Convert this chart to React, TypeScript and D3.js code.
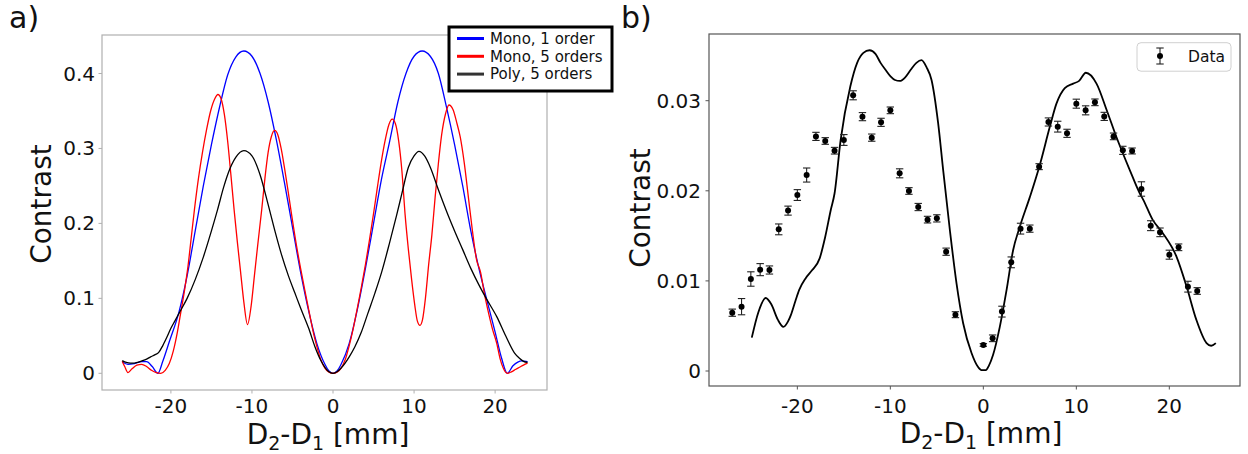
import React from "react";
import * as d3 from "d3";

// ---- panel a) : simulated contrast curves ----
const monoOneX = [-26, -25.3, -24.5, -23.6, -23, -22.3, -21.6, -21, -20.2, -19, -18, -17, -16, -15, -14, -13, -12, -11, -10, -9, -8, -7, -6, -5, -4, -3, -2, -1, -0.5, 0, 0.5, 1, 2, 3, 4, 5, 6, 7, 8, 9, 10, 11, 12, 13, 14, 15, 16, 17, 18, 19, 20, 20.8, 21.5, 22.2, 22.8, 23.3, 24];
const monoOneY = [0.0155, 0.012, 0.013, 0.0155, 0.0155, 0.009, 0, 0.016, 0.042, 0.082, 0.13, 0.19, 0.25, 0.305, 0.355, 0.398, 0.422, 0.43, 0.423, 0.4, 0.362, 0.312, 0.255, 0.195, 0.135, 0.083, 0.04, 0.012, 0.003, 0, 0.003, 0.012, 0.04, 0.085, 0.14, 0.2, 0.26, 0.31, 0.362, 0.4, 0.423, 0.43, 0.423, 0.4, 0.355, 0.305, 0.25, 0.19, 0.14, 0.097, 0.055, 0.02, 0, 0.01, 0.015, 0.0165, 0.0155];

const monoFiveX = [-26, -25.7, -25.3, -24.8, -24.2, -23.6, -23, -22.4, -21.8, -21.25, -20.7, -20.2, -19.7, -19.2, -18.8, -18.3, -17.9, -17.5, -17.1, -16.6, -16.1, -15.6, -15.1, -14.6, -14.2, -13.8, -13.4, -13, -12.6, -12.2, -11.8, -11.4, -11, -10.55, -10.1, -9.7, -9.3, -8.8, -8.4, -8, -7.6, -7.2, -6.8, -6.4, -6, -5.5, -5.1, -4.5, -4, -3.5, -3, -2.5, -2, -1.5, -1, -0.5, 0, 0.5, 1, 1.5, 2, 2.5, 3, 3.5, 4, 4.5, 5, 5.5, 6, 6.4, 6.9, 7.3, 7.7, 8.1, 8.5, 8.9, 9.3, 9.7, 10.1, 10.4, 10.73, 11.05, 11.4, 11.8, 12.2, 12.6, 13, 13.4, 13.9, 14.3, 14.8, 15.3, 15.7, 16.2, 16.7, 17.2, 17.7, 18.2, 18.7, 19.2, 19.7, 20.2, 20.6, 21, 21.5, 22, 22.5, 23, 23.5, 24];
const monoFiveY = [0.016, 0.009, 0.001, 0.006, 0.011, 0.012, 0.009, 0.004, 0.0008, 0, 0.004, 0.013, 0.03, 0.055, 0.08, 0.112, 0.142, 0.18, 0.218, 0.26, 0.295, 0.325, 0.35, 0.366, 0.372, 0.366, 0.345, 0.31, 0.265, 0.218, 0.175, 0.135, 0.095, 0.065, 0.09, 0.13, 0.17, 0.218, 0.26, 0.295, 0.316, 0.324, 0.318, 0.3, 0.275, 0.24, 0.211, 0.17, 0.14, 0.112, 0.085, 0.058, 0.036, 0.018, 0.007, 0.0015, 0, 0.0015, 0.007, 0.018, 0.037, 0.06, 0.087, 0.115, 0.145, 0.178, 0.213, 0.25, 0.285, 0.309, 0.332, 0.339, 0.333, 0.31, 0.27, 0.211, 0.165, 0.125, 0.09, 0.07, 0.064, 0.072, 0.1, 0.145, 0.185, 0.235, 0.28, 0.318, 0.347, 0.358, 0.352, 0.333, 0.315, 0.28, 0.235, 0.19, 0.152, 0.135, 0.105, 0.08, 0.058, 0.04, 0.02, 0.007, 0, 0.002, 0.005, 0.008, 0.011, 0.0135];

const polyFiveX = [-26, -25.5, -25, -24.5, -24, -23.5, -23, -22.5, -22, -21.5, -21, -20.5, -20, -19.5, -19, -18, -17, -16, -15, -14.25, -13.5, -13, -12, -11, -10, -9, -8, -7.17, -6.4, -5.5, -4.7, -4, -3, -2.23, -1.5, -1, -0.5, 0, 0.5, 1, 2, 2.7, 3.5, 4.3, 5.17, 6, 7, 7.85, 8.5, 9.3, 10, 10.6, 11.3, 12, 13, 14.2, 15, 16, 17, 18, 18.9, 20.2, 21.3, 22.4, 23, 23.5, 24];
const polyFiveY = [0.017, 0.0145, 0.0135, 0.0135, 0.015, 0.0168, 0.019, 0.022, 0.0245, 0.028, 0.037, 0.048, 0.06, 0.07, 0.08, 0.1, 0.125, 0.155, 0.19, 0.218, 0.248, 0.265, 0.288, 0.297, 0.29, 0.265, 0.225, 0.19, 0.16, 0.13, 0.107, 0.087, 0.06, 0.0355, 0.017, 0.008, 0.002, 0, 0.002, 0.007, 0.022, 0.0355, 0.055, 0.08, 0.107, 0.135, 0.175, 0.211, 0.24, 0.275, 0.29, 0.296, 0.29, 0.275, 0.245, 0.211, 0.19, 0.165, 0.14, 0.118, 0.1, 0.0756, 0.05, 0.027, 0.02, 0.016, 0.0145];

const legendA = ["Mono, 1 order", "Mono, 5 orders", "Poly, 5 orders"];
const colorsA = ["#0000ff", "#ff0000", "#000000"];
const ticksAx = [-20, -10, 0, 10, 20];
const ticksAy = [0, 0.1, 0.2, 0.3, 0.4];

// ---- panel b) : measured contrast with error bars + model ----
const dataX = [-27, -26, -25, -24, -23, -22, -21, -20, -19, -18, -17, -16, -15, -14, -13, -12, -11, -10, -9, -8, -7, -6, -5, -4, -3, 0, 1, 2, 3, 4, 5, 6, 7, 8, 9, 10, 11, 12, 13, 14, 15, 16, 17, 18, 19, 20, 21, 22, 23];
const dataY = [0.00647, 0.00714, 0.01021, 0.01125, 0.01121, 0.01572, 0.0178, 0.01953, 0.02175, 0.02604, 0.02553, 0.02445, 0.02564, 0.0306, 0.02823, 0.0259, 0.0276, 0.02893, 0.02194, 0.01998, 0.0182, 0.0168, 0.01694, 0.01324, 0.00625, 0.00289, 0.00363, 0.00659, 0.01206, 0.0158, 0.0158, 0.02268, 0.02764, 0.02712, 0.02638, 0.02967, 0.02893, 0.02982, 0.02826, 0.02604, 0.02449, 0.02442, 0.0202, 0.01613, 0.01539, 0.01291, 0.01373, 0.00936, 0.00888];
const dataErr = [0.0004, 0.0009, 0.0008, 0.00067, 0.00045, 0.0006, 0.0005, 0.0006, 0.00078, 0.00045, 0.00037, 0.00037, 0.0006, 0.0005, 0.00045, 0.0004, 0.00045, 0.00037, 0.0005, 0.00037, 0.0004, 0.00037, 0.0004, 0.0004, 0.00033, 0.00015, 0.00037, 0.0006, 0.0006, 0.0006, 0.0004, 0.00033, 0.00045, 0.0006, 0.00045, 0.0005, 0.0005, 0.00037, 0.00045, 0.00037, 0.00045, 0.00033, 0.0008, 0.00055, 0.00048, 0.0005, 0.00037, 0.0006, 0.00037];

const modelX = [-24.9, -24.2, -23.4, -22.8, -22.1, -21.5, -21, -20.7, -20.2, -19.8, -19.1, -18.4, -17.6, -17, -16.4, -16, -15.35, -14.3, -13.57, -12.9, -12.24, -11.6, -11.05, -10.5, -9.98, -9.5, -8.98, -8.4, -7.83, -7.2, -6.65, -6.1, -5.57, -4.86, -4.32, -3.6, -2.88, -2.17, -1.27, -0.6, -0.2, 0.27, 0.6, 1.05, 1.77, 2.5, 3.2, 3.92, 5, 6.08, 7.15, 7.87, 8.76, 9.66, 10.3, 11.02, 12.17, 13.25, 14.3, 15.75, 16.83, 17.2, 18.2, 19.3, 20.77, 21.85, 22.9, 24, 24.5, 25];
const modelY = [0.0037, 0.0065, 0.0081, 0.0074, 0.0057, 0.0049, 0.0055, 0.0062, 0.0078, 0.009, 0.0103, 0.0112, 0.0125, 0.0149, 0.0179, 0.0197, 0.0256, 0.0316, 0.0342, 0.0353, 0.0356, 0.0352, 0.0342, 0.0334, 0.0327, 0.0323, 0.0322, 0.0326, 0.0334, 0.0342, 0.0345, 0.0337, 0.0323, 0.0275, 0.0223, 0.01565, 0.0097, 0.0053, 0.002, 0.0005, 0.0001, 0.0001, 0.0006, 0.0018, 0.0049, 0.009, 0.0134, 0.016, 0.0193, 0.0229, 0.0271, 0.0297, 0.0314, 0.0319, 0.0322, 0.0331, 0.0319, 0.029, 0.026, 0.0223, 0.0197, 0.019, 0.0168, 0.0153, 0.0127, 0.0094, 0.0057, 0.0031, 0.0028, 0.0031];

const ticksBx = [-20, -10, 0, 10, 20];
const ticksBy = [0, 0.01, 0.02, 0.03];

const font = "DejaVu Sans, Verdana, sans-serif";

const fmt = (d: number) => (d === 0 ? "0" : String(d));

const xA = d3.scaleLinear().domain([-28.5, 26.4]).range([102, 547]);
const yA = d3.scaleLinear().domain([0, 0.4]).range([373.3, 73.5]);
const xB = d3.scaleLinear().domain([-29.5, 27.6]).range([709, 1240]);
const yB = d3.scaleLinear().domain([0, 0.03]).range([371, 100.7]);

const pairs = (xs: number[], ys: number[]) => xs.map((x, i) => [x, ys[i]] as [number, number]);

const lineA = d3
  .line<[number, number]>()
  .x((d) => xA(d[0]))
  .y((d) => yA(d[1]))
  .curve(d3.curveMonotoneX);

const lineB = d3
  .line<[number, number]>()
  .x((d) => xB(d[0]))
  .y((d) => yB(d[1]))
  .curve(d3.curveMonotoneX);

const XLabel = ({ x, y }: { x: number; y: number }) => (
  <text x={x} y={y} textAnchor="middle" fontSize={28} fontFamily={font} fill="#111">
    D<tspan fontSize={19} dy={6}>2</tspan>
    <tspan dy={-6}>-D</tspan>
    <tspan fontSize={19} dy={6}>1</tspan>
    <tspan dy={-6}> [mm]</tspan>
  </text>
);

export default function App() {
  const seriesA = [pairs(monoOneX, monoOneY), pairs(monoFiveX, monoFiveY), pairs(polyFiveX, polyFiveY)];
  const frameA = { l: 102, r: 547, t: 35, b: 390 };
  const frameB = { l: 709, r: 1240, t: 34, b: 386 };

  return (
    <svg
      width={1248}
      height={454}
      style={{ position: "absolute", left: 0, top: 0, background: "#fff" }}
      fontFamily={font}
    >
      <rect width={1248} height={454} fill="#fff" />

      {/* panel a */}
      <text x={9} y={28} fontSize={30} fill="#111">a)</text>
      <rect x={frameA.l} y={frameA.t} width={frameA.r - frameA.l} height={frameA.b - frameA.t} fill="none" stroke="#b0b0b0" strokeWidth={1.2} />
      {ticksAy.map((t) => (
        <g key={"ay" + t}>
          <line x1={frameA.l - 3.5} x2={frameA.l} y1={yA(t)} y2={yA(t)} stroke="#b0b0b0" />
          <text x={frameA.l - 7} y={yA(t) + 7} textAnchor="end" fontSize={20} fill="#111">{fmt(t)}</text>
        </g>
      ))}
      {ticksAx.map((t) => (
        <g key={"ax" + t}>
          <line x1={xA(t)} x2={xA(t)} y1={frameA.b} y2={frameA.b + 3.5} stroke="#b0b0b0" />
          <text x={xA(t)} y={413} textAnchor="middle" fontSize={20} fill="#111">{fmt(t)}</text>
        </g>
      ))}
      {seriesA.map((s, i) => (
        <path key={"sa" + i} d={lineA(s) || ""} fill="none" stroke={colorsA[i]} strokeWidth={1.3} />
      ))}
      <XLabel x={328} y={444} />
      <text transform="translate(51,204) rotate(-90)" textAnchor="middle" fontSize={28} fill="#111">Contrast</text>
      <rect x={449} y={27} width={163} height={64} fill="#fff" stroke="#000" strokeWidth={3} />
      {legendA.map((name, i) => (
        <g key={"la" + i}>
          <line x1={457} x2={484} y1={38.5 + i * 17.8} y2={38.5 + i * 17.8} stroke={i === 2 ? "#333" : colorsA[i]} strokeWidth={3} />
          <text x={490} y={43.8 + i * 17.8} fontSize={15} fill="#111">{name}</text>
        </g>
      ))}

      {/* panel b */}
      <text x={621} y={28} fontSize={30} fill="#111">b)</text>
      <rect x={frameB.l} y={frameB.t} width={frameB.r - frameB.l} height={frameB.b - frameB.t} fill="none" stroke="#555" strokeWidth={1.2} />
      {ticksBy.map((t) => (
        <g key={"by" + t}>
          <line x1={frameB.l - 3.5} x2={frameB.l} y1={yB(t)} y2={yB(t)} stroke="#555" />
          <text x={frameB.l - 8} y={yB(t) + 7} textAnchor="end" fontSize={20} fill="#111">{fmt(t)}</text>
        </g>
      ))}
      {ticksBx.map((t) => (
        <g key={"bx" + t}>
          <line x1={xB(t)} x2={xB(t)} y1={frameB.b} y2={frameB.b + 3.5} stroke="#555" />
          <text x={xB(t)} y={413} textAnchor="middle" fontSize={20} fill="#111">{fmt(t)}</text>
        </g>
      ))}
      <path d={lineB(pairs(modelX, modelY)) || ""} fill="none" stroke="#000" strokeWidth={1.8} />
      {dataX.map((x, i) => {
        const cx = xB(x);
        const lo = yB(dataY[i] - dataErr[i]);
        const hi = yB(dataY[i] + dataErr[i]);
        return (
          <g key={"pt" + i} stroke="#222" strokeWidth={1.1}>
            <line x1={cx} x2={cx} y1={lo} y2={hi} />
            <line x1={cx - 3.7} x2={cx + 3.7} y1={lo} y2={lo} />
            <line x1={cx - 3.7} x2={cx + 3.7} y1={hi} y2={hi} />
            <circle cx={cx} cy={yB(dataY[i])} r={3} fill="#000" stroke="none" />
          </g>
        );
      })}
      <XLabel x={981} y={443} />
      <text transform="translate(650,208) rotate(-90)" textAnchor="middle" fontSize={28} fill="#111">Contrast</text>
      <rect x={1137} y={42.7} width={94} height={28.5} rx={4} fill="#fff" fillOpacity={0.8} stroke="#d0d0d0" />
      <g stroke="#222" strokeWidth={1.1}>
        <line x1={1160} x2={1160} y1={48} y2={64} />
        <line x1={1156.3} x2={1163.7} y1={48} y2={48} />
        <line x1={1156.3} x2={1163.7} y1={64} y2={64} />
        <circle cx={1160} cy={56} r={3} fill="#000" stroke="none" />
      </g>
      <text x={1188} y={61.5} fontSize={15.5} fill="#111">Data</text>
    </svg>
  );
}
